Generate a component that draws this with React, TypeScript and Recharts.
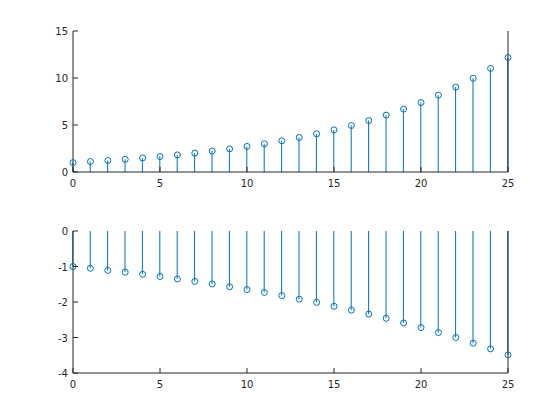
import React from "react";
import { ComposedChart, Bar, Line, XAxis, YAxis } from "recharts";

const indices = [0,1,2,3,4,5,6,7,8,9,10,11,12,13,14,15,16,17,18,19,20,21,22,23,24,25];
const topValues = [1.00,1.11,1.22,1.35,1.49,1.65,1.82,2.01,2.23,2.46,2.72,3.00,3.32,3.67,4.06,4.48,4.95,5.47,6.05,6.69,7.39,8.17,9.03,9.97,11.02,12.18];
const bottomValues = [-1.00,-1.05,-1.11,-1.16,-1.22,-1.28,-1.35,-1.42,-1.49,-1.57,-1.65,-1.73,-1.82,-1.92,-2.01,-2.12,-2.23,-2.34,-2.46,-2.59,-2.72,-2.86,-3.00,-3.16,-3.32,-3.49];
const xTicks = [0,5,10,15,20,25];
const topYTicks = [0,5,10,15];
const bottomYTicks = [-4,-3,-2,-1,0];

const BLUE = "#0072BD";
const AX = "#262626";
const FONT = "DejaVu Sans, Liberation Sans, sans-serif";

const topData = indices.map((n, i) => ({ n, v: topValues[i] }));
const bottomData = indices.map((n, i) => ({ n, v: bottomValues[i] }));

const W = 560;
const LEFT = 73;
const RIGHT = 52;
const TICK = 5;

function Panel({ data, yDomain, yTicks, height, top, bottom }: any) {
  const plotTop = top;
  const plotBottom = height - bottom;
  const plotLeft = LEFT;
  const plotRight = W - RIGHT;
  const XTickBottom = (p: any) => (
    <g>
      <line x1={p.x} x2={p.x} y1={plotBottom} y2={plotBottom - TICK} stroke={AX} strokeWidth={1} />
      <text x={p.x} y={plotBottom + 15} textAnchor="middle" fontSize={10} fill={AX} fontFamily={FONT}>{p.payload.value}</text>
    </g>
  );
  const XTickTop = (p: any) => (
    <line x1={p.x} x2={p.x} y1={plotTop} y2={plotTop + TICK} stroke={AX} strokeWidth={1} />
  );
  const YTickLeft = (p: any) => (
    <g>
      <line x1={plotLeft} x2={plotLeft + TICK} y1={p.y} y2={p.y} stroke={AX} strokeWidth={1} />
      <text x={plotLeft - 5} y={p.y + 4} textAnchor="end" fontSize={10} fill={AX} fontFamily={FONT}>{p.payload.value}</text>
    </g>
  );
  const YTickRight = (p: any) => (
    <line x1={plotRight} x2={plotRight - TICK} y1={p.y} y2={p.y} stroke={AX} strokeWidth={1} />
  );
  return (
    <ComposedChart
      width={W}
      height={height}
      data={data}
      margin={{ top: top, bottom: bottom - 20, left: LEFT - 40, right: RIGHT - 40 }}
    >
      <XAxis xAxisId="b" dataKey="n" type="number" domain={[0, 25]} ticks={xTicks} height={20}
        axisLine={{ stroke: AX }} tickLine={false} tick={XTickBottom} interval={0} />
      <XAxis xAxisId="t" dataKey="n" type="number" orientation="top" domain={[0, 25]} ticks={xTicks} height={0}
        axisLine={{ stroke: AX }} tickLine={false} tick={XTickTop} interval={0} />
      <YAxis yAxisId="l" type="number" domain={yDomain} ticks={yTicks} width={40}
        axisLine={{ stroke: AX }} tickLine={false} tick={YTickLeft} interval={0} />
      <YAxis yAxisId="r" type="number" orientation="right" domain={yDomain} ticks={yTicks} width={40}
        axisLine={{ stroke: AX }} tickLine={false} tick={YTickRight} interval={0} />
      <Bar xAxisId="b" yAxisId="l" dataKey="v" fill={BLUE} barSize={1} isAnimationActive={false} />
      <Line xAxisId="b" yAxisId="l" dataKey="v" stroke="none"
        dot={{ r: 3, stroke: BLUE, strokeWidth: 1, fill: "none" }}
        activeDot={false} isAnimationActive={false} />
    </ComposedChart>
  );
}

export default function App() {
  return (
    <div style={{ position: "absolute", left: 0, top: 0, width: 560, height: 420, background: "#fff" }}>
      <div style={{ position: "absolute", left: 0, top: 0 }}>
        <Panel data={topData} yDomain={[0, 15]} yTicks={topYTicks} height={200} top={31} bottom={28} />
      </div>
      <div style={{ position: "absolute", left: 0, top: 200 }}>
        <Panel data={bottomData} yDomain={[-4, 0]} yTicks={bottomYTicks} height={220} top={31} bottom={47} />
      </div>
    </div>
  );
}
